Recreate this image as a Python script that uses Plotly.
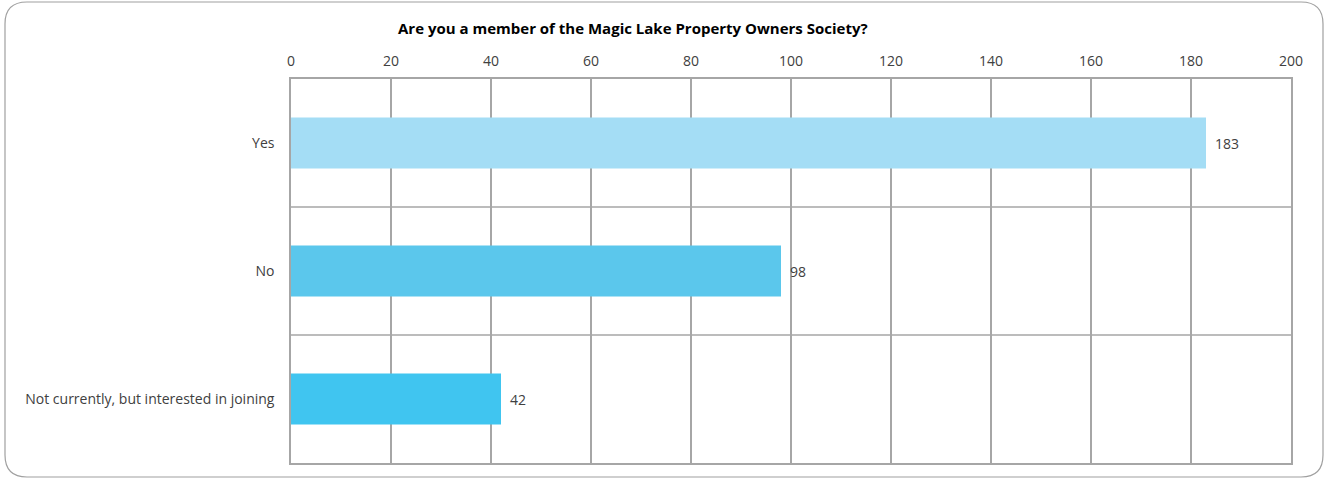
import plotly.graph_objects as go

categories = ["Yes", "No", "Not currently, but interested in joining"]
counts = [183, 98, 42]
bar_colors = ["#A4DDF5", "#5BC7EC", "#40C5F0"]
x_ticks = [0, 20, 40, 60, 80, 100, 120, 140, 160, 180, 200]
title_text = "Are you a member of the Magic Lake Property Owners Society?"

FONT = "Open Sans"
GRID = "#A6A6A6"
TEXT = "#404040"

W, H = 1328, 479
L, R, T, B = 291, 37, 79, 16
PW, PH = W - L - R, H - T - B

# numeric positions, top category first
ypos = list(range(len(categories)))

fig = go.Figure()
for i, (cat, val, col) in enumerate(zip(categories, counts, bar_colors)):
    fig.add_trace(go.Bar(
        y=[ypos[i]], x=[val], orientation="h",
        marker=dict(color=col, line=dict(width=0)),
        width=0.4, showlegend=False, name=cat,
    ))
    fig.add_annotation(
        x=val, y=ypos[i], xref="x", yref="y", text=str(val),
        showarrow=False, xanchor="left", xshift=7,
        font=dict(family=FONT, size=14, color=TEXT),
    )

# separators between category bands
for b in [i + 0.5 for i in ypos[:-1]]:
    fig.add_shape(type="line", xref="x", yref="y", x0=0, x1=200, y0=b, y1=b,
                  line=dict(color=GRID, width=1.5), layer="below")

# rounded outer frame (paper coords are relative to the plot area)
r = 22
x0, y0, x1, y1 = 5, 2, 1323, 477
fx = lambda v: (v - L) / PW
fy = lambda v: (H - B - v) / PH
path = (f"M {fx(x0 + r)} {fy(y0)} L {fx(x1 - r)} {fy(y0)} "
        f"Q {fx(x1)} {fy(y0)} {fx(x1)} {fy(y0 + r)} "
        f"L {fx(x1)} {fy(y1 - r)} Q {fx(x1)} {fy(y1)} {fx(x1 - r)} {fy(y1)} "
        f"L {fx(x0 + r)} {fy(y1)} Q {fx(x0)} {fy(y1)} {fx(x0)} {fy(y1 - r)} "
        f"L {fx(x0)} {fy(y0 + r)} Q {fx(x0)} {fy(y0)} {fx(x0 + r)} {fy(y0)} Z")
fig.add_shape(type="path", xref="paper", yref="paper", path=path,
              line=dict(color="#A0A0A0", width=1.2), layer="below")

fig.add_annotation(
    text=f"<b>{title_text}</b>", xref="paper", yref="paper",
    x=fx(633), y=fy(28), xanchor="center", yanchor="middle",
    showarrow=False, font=dict(family=FONT, size=15, color="#000000"),
)

fig.update_layout(
    width=W, height=H,
    margin=dict(l=L, r=R, t=T, b=B),
    paper_bgcolor="white", plot_bgcolor="white",
    font=dict(family=FONT, size=14, color=TEXT),
)
fig.update_xaxes(
    range=[0, 200], side="top", tickvals=x_ticks,
    showgrid=True, gridcolor=GRID, gridwidth=1.5,
    showline=True, linecolor=GRID, linewidth=1.5, mirror=True,
    zeroline=False, ticks="", ticklabelstandoff=6,
    tickfont=dict(family=FONT, size=14, color=TEXT),
)
fig.update_yaxes(
    range=[len(categories) - 0.5, -0.5], tickvals=ypos, ticktext=categories,
    showgrid=False, zeroline=False,
    showline=True, linecolor=GRID, linewidth=1.5, mirror=True,
    ticks="", ticklabelstandoff=12,
    tickfont=dict(family=FONT, size=14, color=TEXT),
)

fig.write_html("out.html")
